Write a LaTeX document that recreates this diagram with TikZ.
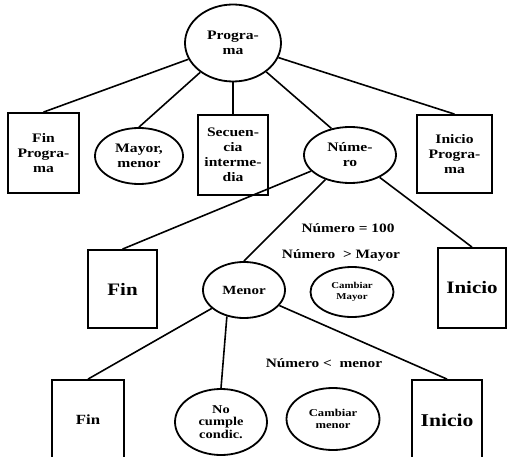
\documentclass[tikz,border=0pt]{standalone}
\usepackage{fontspec}
\setmainfont{Liberation Serif}
\newfontfamily\dgfont[FakeStretch=1.2]{Liberation Serif Bold}
\usetikzlibrary{shapes.geometric}

\tikzset{
  conn/.style={line width=1.6pt},
  boxnode/.style={draw, line width=1.8pt, rectangle, inner sep=0pt, align=center},
  ellnode/.style={draw, line width=1.8pt, ellipse, inner sep=0pt, align=center},
  txtA/.style={font=\dgfont\fontsize{13}{15}\selectfont},
  txtB/.style={font=\dgfont\fontsize{17.5}{19}\selectfont},
  txtC/.style={font=\dgfont\fontsize{9}{11.5}\selectfont},
  txtD/.style={font=\dgfont\fontsize{10.5}{12.5}\selectfont},
  cond/.style={font=\dgfont\fontsize{12.8}{14}\selectfont, inner sep=0pt},
}

\begin{document}
\begin{tikzpicture}[x=1pt, y=-1pt]
\clip (0,0) rectangle (508,457);
\fill[white] (0,0) rectangle (508,457);

% root
\node[ellnode, txtA, minimum width=96pt, minimum height=77pt] (prog) at (233,43) {Progra-\\ma};

% first level
\node[boxnode, txtA, minimum width=71pt, minimum height=80pt] (finprog) at (43.5,153) {Fin\\Progra-\\ma};
\node[ellnode, txtA, minimum width=88pt, minimum height=56pt] (mayor) at (139,156) {Mayor,\\menor};
\node[boxnode, txtA, minimum width=70pt, minimum height=80pt] (secu) at (233,155) {Secuen-\\cia\\interme-\\dia};
\node[ellnode, txtA, minimum width=92pt, minimum height=56pt] (num) at (350,155) {Núme-\\ro};
\node[boxnode, txtA, minimum width=75pt, minimum height=78pt] (iniprog) at (454.5,154) {Inicio\\Progra-\\ma};

% second level
\node[boxnode, txtB, minimum width=69pt, minimum height=78pt] (fin1) at (122.5,289) {Fin};
\node[ellnode, font=\dgfont\fontsize{12.5}{14}\selectfont, minimum width=82pt, minimum height=56pt] (menor) at (244,290) {Menor};
\node[ellnode, txtC, minimum width=83pt, minimum height=50pt] (cmayor) at (352,292) {Cambiar\\Mayor};
\node[boxnode, txtB, minimum width=68pt, minimum height=80pt] (ini1) at (472,288) {Inicio};

% third level
\node[boxnode, font=\dgfont\fontsize{14}{16}\selectfont, minimum width=72pt, minimum height=80pt] (fin2) at (88,420) {Fin};
\node[ellnode, font=\dgfont\fontsize{12}{12.8}\selectfont, minimum width=92pt, minimum height=66pt] (nocum) at (221,422) {No\\cumple\\condic.};
\node[ellnode, txtD, minimum width=93pt, minimum height=62pt] (cmenor) at (333,419) {Cambiar\\menor};
\node[boxnode, font=\dgfont\fontsize{18}{20}\selectfont, minimum width=70pt, minimum height=80pt] (ini2) at (447,420) {Inicio};

% conditions
\node[cond] (c1) at (348,228) {Número = 100};
\node[cond] (c2) at (341,255) {Número\ \ > Mayor};
\node[cond] (c3) at (324,363) {Número <\ \ menor};

% connectors
\draw[conn] (prog) -- (finprog.north);
\draw[conn] (prog) -- (mayor.north);
\draw[conn] (prog.south) -- (prog.south |- secu.north);
\draw[conn] (prog) -- (num.125);
\draw[conn] (prog) -- (iniprog.north);

\draw[conn] (num) -- (fin1.north);
\draw[conn] (num) -- (menor.north);
\draw[conn] (num) -- (ini1.north);

\draw[conn] (menor) -- (fin2.north);
\draw[conn] (menor.-123) -- (nocum.north);
\draw[conn] (menor) -- (ini2.north);
\end{tikzpicture}
\end{document}
